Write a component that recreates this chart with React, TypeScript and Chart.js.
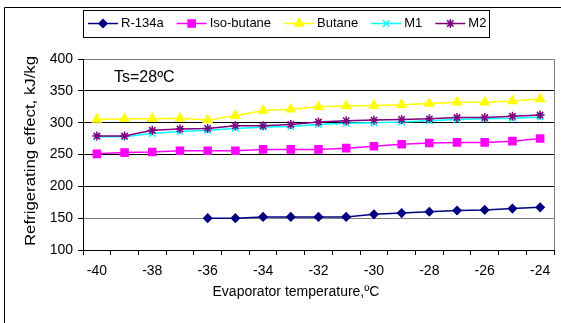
import React, { useEffect, useRef } from "react";
import { Chart, registerables } from "chart.js";
import { drawPoint } from "chart.js/helpers";

Chart.register(...registerables);

const temperatures = ["-40", "-39", "-38", "-37", "-36", "-35", "-34", "-33", "-32", "-31", "-30", "-29", "-28", "-27", "-26", "-25", "-24"];
const r134a = [null, null, null, null, 150, 150, 152, 152, 152, 152, 156, 158, 160, 162, 163, 165, 167];
const isoButane = [251, 253, 254, 256, 256, 256, 258, 258, 258, 260, 263, 266, 268, 269, 269, 271, 275];
const butane = [305, 306, 306, 307, 304, 311, 319, 321, 325, 326, 327, 328, 330, 332, 332, 334, 337];
const m1 = [278, 278, 283, 286, 288, 291, 293, 294, 297, 299, 300, 301, 303, 305, 306, 307, 309];
const m2 = [279, 279, 288, 290, 291, 295, 295, 297, 301, 303, 304, 305, 306, 308, 308, 310, 312];
const seriesNames = ["R-134a", "Iso-butane", "Butane", "M1", "M2"];
const yTicks = [100, 150, 200, 250, 300, 350, 400];
const yTitle = "Refrigerating effect, kJ/kg";
const xTitle = "Evaporator temperature,\u00BAC";
const note = "Ts=28\u00BAC";

const FONT = '"Liberation Sans", Arial, sans-serif';

const styles = [
  { color: "#000080", pointStyle: "rectRot", radius: 4 },
  { color: "#FF00FF", pointStyle: "rect", radius: 5 },
  { color: "#FFFF00", pointStyle: "triangle", radius: 5 },
  { color: "#00FFFF", pointStyle: "crossRot", radius: 4.5 },
  { color: "#800080", pointStyle: "star", radius: 4.5 },
];

const decorPlugin = {
  id: "decor",
  beforeDatasetsDraw(chart: any) {
    const { ctx, chartArea } = chart;
    ctx.save();
    ctx.strokeStyle = "#808080";
    ctx.lineWidth = 1;
    ctx.beginPath();
    ctx.moveTo(Math.round(chartArea.right) + 0.5, chartArea.top);
    ctx.lineTo(Math.round(chartArea.right) + 0.5, chartArea.bottom);
    ctx.stroke();
    ctx.restore();
  },
  afterDraw(chart: any) {
    const { ctx } = chart;
    ctx.save();
    // outer frame
    ctx.strokeStyle = "#000";
    ctx.lineWidth = 1;
    ctx.beginPath();
    ctx.moveTo(4.5, 323);
    ctx.lineTo(4.5, 7.5);
    ctx.lineTo(561, 7.5);
    ctx.stroke();

    // legend
    ctx.strokeRect(83.5, 10.5, 406, 27);
    ctx.font = "13px " + FONT;
    ctx.textBaseline = "middle";
    ctx.textAlign = "left";
    let x = 88;
    const cy = 23.5;
    chart.data.datasets.forEach((ds: any, i: number) => {
      const st = styles[i];
      ctx.strokeStyle = st.color;
      ctx.fillStyle = st.color;
      ctx.lineWidth = 1.5;
      ctx.beginPath();
      ctx.moveTo(x, cy);
      ctx.lineTo(x + 30, cy);
      ctx.stroke();
      drawPoint(ctx, { pointStyle: st.pointStyle, radius: st.radius, rotation: 0, borderWidth: 1.5 } as any, x + 15, cy);
      ctx.fillStyle = "#000";
      ctx.fillText(ds.label, x + 33, cy);
      x = x + 33 + ctx.measureText(ds.label).width + 13;
    });

    // note
    ctx.fillStyle = "#000";
    ctx.font = "16px " + FONT;
    ctx.textBaseline = "alphabetic";
    ctx.fillText(note, 114, 82);

    // x title
    ctx.font = "14px " + FONT;
    ctx.textAlign = "center";
    ctx.textBaseline = "middle";
    ctx.fillText(xTitle, 296, 292);

    // y title (stretched lengthwise like the original, clipped at the top)
    ctx.save();
    ctx.beginPath();
    ctx.rect(0, 56, 80, 267);
    ctx.clip();
    ctx.translate(31, 151);
    ctx.rotate(-Math.PI / 2);
    ctx.scale(1.2, 1);
    ctx.fillText(yTitle, 0, 0);
    ctx.restore();
    ctx.restore();
  },
};

export default function App() {
  const ref = useRef<HTMLCanvasElement>(null);
  useEffect(() => {
    document.body.style.margin = "0";
    Chart.defaults.color = "#000";
    const datasets = [r134a, isoButane, butane, m1, m2].map((d, i) => ({
      label: seriesNames[i],
      data: d,
      borderColor: styles[i].color,
      backgroundColor: styles[i].color,
      pointBackgroundColor: styles[i].color,
      pointBorderColor: styles[i].color,
      pointStyle: styles[i].pointStyle,
      pointRadius: styles[i].radius,
      pointBorderWidth: 1.5,
      borderWidth: 1.5,
      tension: 0,
      spanGaps: false,
      order: 4 - i,
    }));
    const chart = new Chart(ref.current!, {
      type: "line",
      data: { labels: temperatures, datasets },
      plugins: [decorPlugin],
      options: {
        animation: false,
        responsive: true,
        maintainAspectRatio: false,
        layout: { padding: { left: 0, top: 59, right: 7, bottom: 0 } },
        plugins: { legend: { display: false }, tooltip: { enabled: false } },
        scales: {
          x: {
            type: "category",
            offset: true,
            grid: { offset: true, drawOnChartArea: false, drawTicks: true, tickLength: 5, color: "#000" },
            border: { color: "#000", width: 1 },
            ticks: {
              autoSkip: false,
              maxRotation: 0,
              minRotation: 0,
              padding: 8,
              font: { size: 14, family: FONT },
              callback: (_v: any, i: number) => (i % 2 === 0 ? temperatures[i] : ""),
            },
            afterFit: (s: any) => {
              s.height = 73;
              s.paddingLeft = 0;
              s.paddingRight = 0;
            },
          },
          y: {
            min: yTicks[0],
            max: yTicks[yTicks.length - 1],
            afterBuildTicks: (s: any) => {
              s.ticks = yTicks.map((v) => ({ value: v }));
            },
            grid: {
              color: (c: any) => (c.tick && (c.tick.value === 400 || c.tick.value === 150) ? "#808080" : "#000"),
              tickColor: "#000",
              tickLength: 5,
              drawTicks: true,
            },
            border: { color: "#000", width: 1 },
            ticks: { padding: 5, font: { size: 14, family: FONT } },
            afterFit: (s: any) => {
              s.width = 83;
              s.paddingTop = 0;
              s.paddingBottom = 0;
            },
          },
        },
      },
    });
    return () => chart.destroy();
  }, []);
  return (
    <div style={{ position: "absolute", left: 0, top: 0, width: 561, height: 323, background: "#fff" }}>
      <canvas ref={ref} />
    </div>
  );
}
